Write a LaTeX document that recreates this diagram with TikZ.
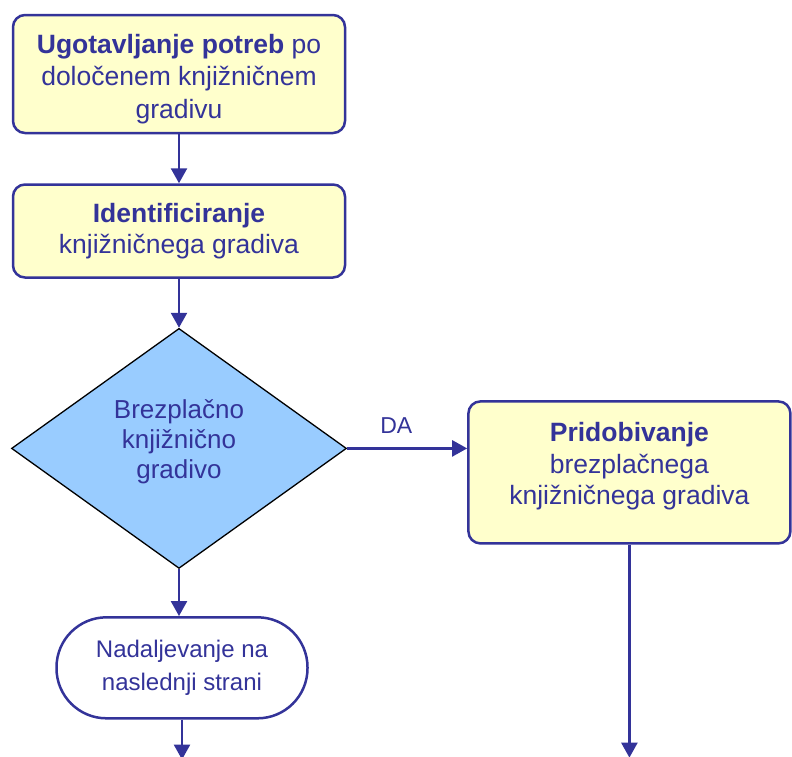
\documentclass[tikz,border=0pt]{standalone}
\usepackage{fontspec}
\setmainfont{Liberation Sans}
\usetikzlibrary{shapes.geometric, arrows.meta, positioning}
\definecolor{flowBlue}{RGB}{51,51,153}
\definecolor{flowYellow}{RGB}{255,255,204}
\definecolor{flowSky}{RGB}{153,204,255}

\begin{document}
\begin{tikzpicture}[
		node distance=49pt and 120pt,
		baseBox/.style={rectangle, rounded corners=12pt, draw=flowBlue, line width=2.5pt, fill=flowYellow, text=flowBlue, align=center, inner sep=0pt, font=\fontsize{26.5}{31.5}\selectfont},
		taskBox/.style={baseBox, minimum width=332pt},
		decisionBox/.style={diamond, draw=black, line width=1.3pt, fill=flowSky, text=flowBlue, align=center, inner sep=0pt, minimum width=335pt, minimum height=240pt, font=\fontsize{26}{30}\selectfont},
		endBox/.style={rectangle, rounded corners=50pt, draw=flowBlue, line width=2.5pt, fill=white, text=flowBlue, align=center, minimum width=251pt, minimum height=101pt, font=\fontsize{24}{33}\selectfont},
		arrow/.style={-{Triangle[length=15pt, width=16pt]}, line width=2.5pt, draw=flowBlue}
		]
		\useasboundingbox (0,0) rectangle (792pt,-756pt);

		% Nodes
		\node[taskBox, minimum height=118pt, font=\fontsize{26.5}{32.5}\selectfont] (needs) at (179pt,-74pt) {\mbox{}\\[-4pt]\textbf{Ugotavljanje potreb} po\\določenem knjižničnem\\gradivu};
		\node[taskBox, minimum height=93pt, below=of needs] (identify) {\textbf{Identificiranje}\\knjižničnega gradiva};
		\node[decisionBox, below=of identify] (free) {Brezplačno\\knjižnično\\gradivo\\[-12pt]\mbox{}};
		\node[endBox, below=47pt of free, xshift=3pt] (nextPage) {Nadaljevanje na\\naslednji strani};
		\node[baseBox, minimum width=322pt, minimum height=142pt, right=of free, yshift=-24pt] (obtain) {\textbf{Pridobivanje}\\brezplačnega\\knjižničnega gradiva\\[-14pt]\mbox{}};
		\coordinate[below=40pt of nextPage.south] (nextEnd);
		\coordinate[below=213pt of obtain.south] (obtainEnd);

		% Arrows
		\draw[arrow] (needs) -- (identify);
		\draw[arrow] (identify) -- (free);
		\draw[arrow] (free.east) -- (free.east -| obtain.west) node[pos=0.41, above=12pt, inner sep=2pt, text=flowBlue, font=\fontsize{23}{28}\selectfont] (yesLabel) {DA};
		\draw[arrow] (free.south) -- (free.south |- nextPage.north);
		\draw[arrow] (nextPage.south) -- (nextEnd);
		\draw[arrow] (obtain.south) -- (obtainEnd);

	\end{tikzpicture}
\end{document}
